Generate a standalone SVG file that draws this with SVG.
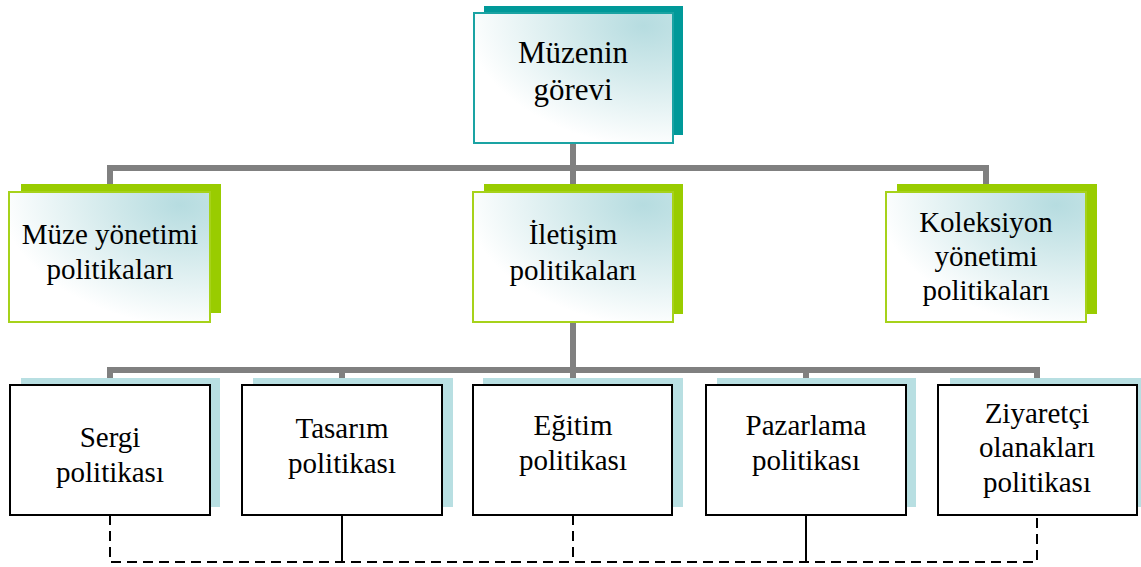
<svg xmlns="http://www.w3.org/2000/svg" width="1141" height="567" viewBox="0 0 1141 567">
<defs>
<radialGradient id="g" cx="1" cy="0" r="1.05" fx="0.85" fy="0.1">
<stop offset="0" stop-color="#B6DCE0"/>
<stop offset="0.35" stop-color="#CFE8EA"/>
<stop offset="1" stop-color="#FFFFFF"/>
</radialGradient>
<style>
.conn{stroke:#808080;stroke-width:6;fill:none;stroke-linecap:square}
.dash{stroke:#000;stroke-width:2;fill:none;stroke-dasharray:10 6}
.solid{stroke:#000;stroke-width:2;fill:none}
.sh-teal{fill:#009999}
.sh-green{fill:#99CC00}
.sh-blue{fill:#B8DFE2}
.fr-teal{fill:url(#g);stroke:#1AA3A3;stroke-width:2}
.fr-green{fill:url(#g);stroke:#A6D21A;stroke-width:2}
.fr-plain{fill:#fff;stroke:#000;stroke-width:2}
.t1{font-size:31px;font-family:'Liberation Serif','DejaVu Serif',serif}
.t2{font-size:29px;font-family:'Liberation Serif','DejaVu Serif',serif}
</style>
</defs>
<rect width="1141" height="567" fill="#fff"/>
<g id="connectors">
<path class="conn" d="M573 140V168M110 168H986M110 168V186M573 168V186M986 168V186"/>
<path class="conn" d="M573 320V370M110 370H1037M110 370V380M342 370V380M573 370V380M806 370V380M1037 370V380"/>
<path class="dash" d="M110 515V562H1037V515"/>
<path class="solid" d="M342 515V562"/>
<path class="dash" d="M573 515V562"/>
<path class="solid" d="M806 515V562"/>
</g>
<g text-anchor="middle" fill="#000">
<g id="n-muzenin">
<rect class="sh-teal" x="484" y="6" width="199" height="129"/>
<rect class="fr-teal" x="474" y="13" width="199" height="130"/>
<text class="t1" x="573" y="63">Müzenin</text>
<text class="t1" x="573" y="100">görevi</text>
</g>
<g id="n-muze-yonetimi">
<rect class="sh-green" x="21" y="184" width="200" height="129"/>
<rect class="fr-green" x="9" y="192" width="201" height="130"/>
<text class="t2" x="110" y="244">Müze yönetimi</text>
<text class="t2" x="110" y="279">politikaları</text>
</g>
<g id="n-iletisim">
<rect class="sh-green" x="484" y="184" width="199" height="130"/>
<rect class="fr-green" x="473" y="192" width="200" height="130"/>
<text class="t2" x="573" y="244">İletişim</text>
<text class="t2" x="573" y="280">politikaları</text>
</g>
<g id="n-koleksiyon">
<rect class="sh-green" x="897" y="184" width="200" height="130"/>
<rect class="fr-green" x="886" y="192" width="200" height="130"/>
<text class="t2" x="986" y="232">Koleksiyon</text>
<text class="t2" x="986" y="266">yönetimi</text>
<text class="t2" x="986" y="300">politikaları</text>
</g>
<g id="n-sergi">
<rect class="sh-blue" x="21" y="378" width="199" height="129"/>
<rect class="fr-plain" x="10" y="385" width="200" height="130"/>
<text class="t2" x="110" y="447">Sergi</text>
<text class="t2" x="110" y="482">politikası</text>
</g>
<g id="n-tasarim">
<rect class="sh-blue" x="253" y="378" width="200" height="129"/>
<rect class="fr-plain" x="242" y="385" width="200" height="130"/>
<text class="t2" x="342" y="438">Tasarım</text>
<text class="t2" x="342" y="473">politikası</text>
</g>
<g id="n-egitim">
<rect class="sh-blue" x="483" y="378" width="200" height="129"/>
<rect class="fr-plain" x="473" y="385" width="199" height="130"/>
<text class="t2" x="573" y="435">Eğitim</text>
<text class="t2" x="573" y="470">politikası</text>
</g>
<g id="n-pazarlama">
<rect class="sh-blue" x="717" y="378" width="199" height="129"/>
<rect class="fr-plain" x="706" y="385" width="200" height="130"/>
<text class="t2" x="806" y="435">Pazarlama</text>
<text class="t2" x="806" y="470">politikası</text>
</g>
<g id="n-ziyaretci">
<rect class="sh-blue" x="950" y="378" width="195" height="129"/>
<rect class="fr-plain" x="938" y="385" width="199" height="130"/>
<text class="t2" x="1037" y="423">Ziyaretçi</text>
<text class="t2" x="1037" y="457">olanakları</text>
<text class="t2" x="1037" y="492">politikası</text>
</g>
</g>
</svg>
